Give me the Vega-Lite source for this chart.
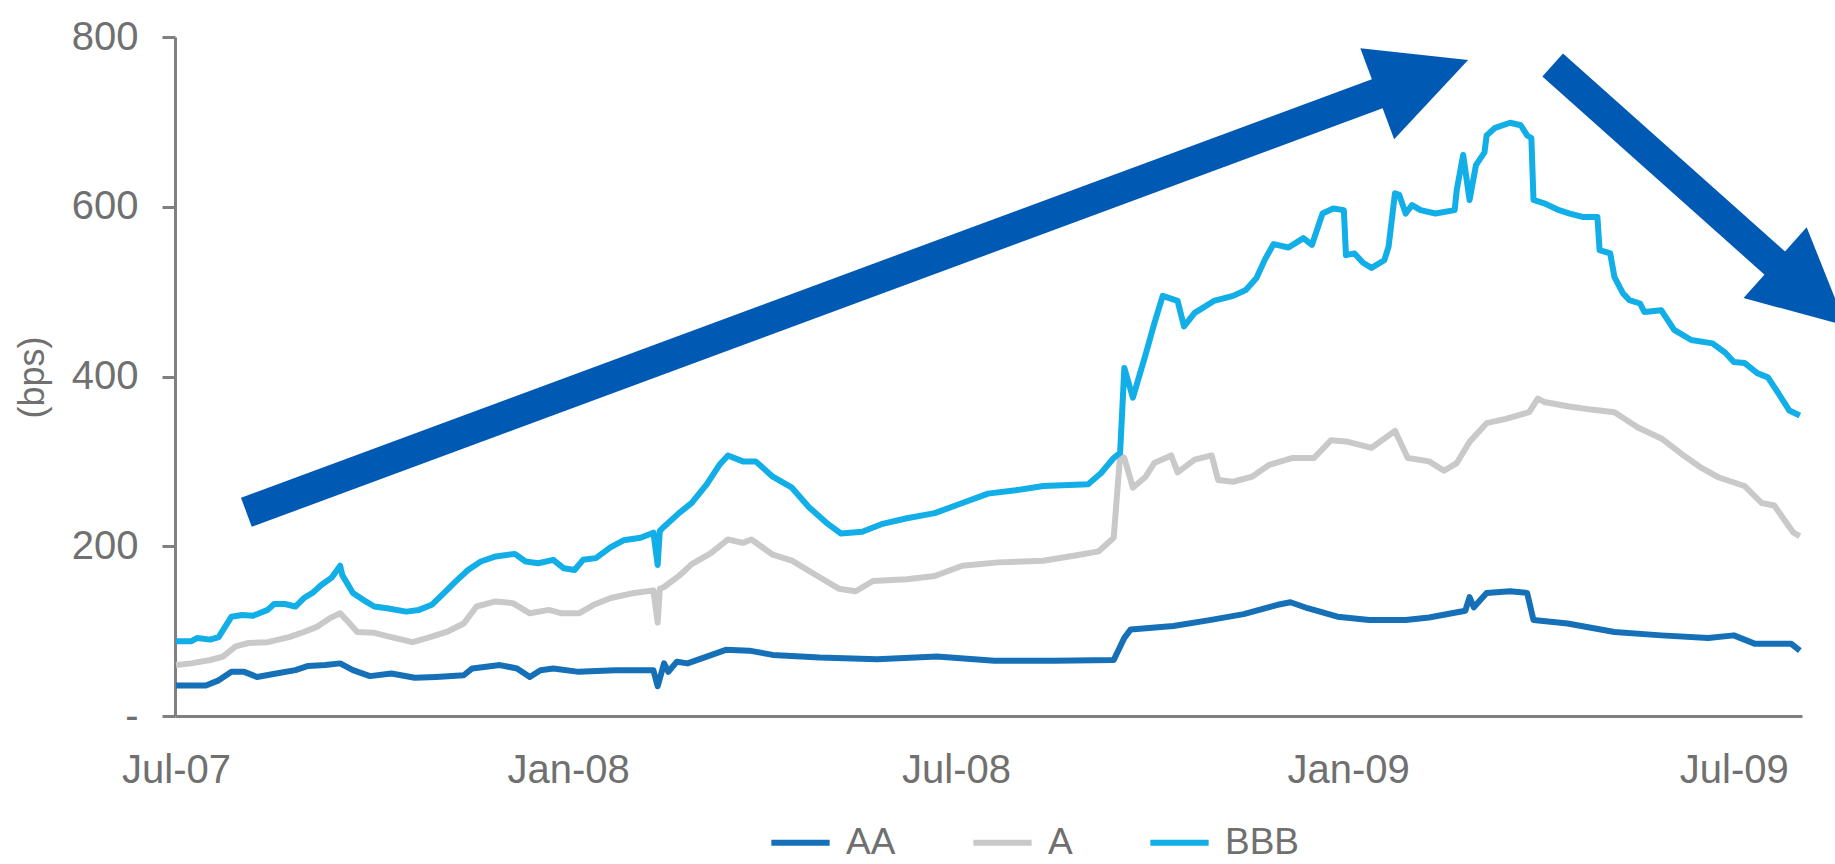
{
  "$schema": "https://vega.github.io/schema/vega-lite/v6.json",
  "width": 1627,
  "height": 679,
  "autosize": {"type": "none"},
  "padding": {"left": 175, "top": 37, "right": 33, "bottom": 148},
  "background": "white",
  "config": {"view": {"stroke": null}, "font": "Liberation Sans"},
  "datasets": {
    "spreads": [
      {"date": "2007-07-01", "rating": "AA", "bps": 36},
      {"date": "2007-07-15", "rating": "AA", "bps": 36},
      {"date": "2007-07-21", "rating": "AA", "bps": 42},
      {"date": "2007-07-27", "rating": "AA", "bps": 52},
      {"date": "2007-08-02", "rating": "AA", "bps": 52},
      {"date": "2007-08-08", "rating": "AA", "bps": 46},
      {"date": "2007-08-17", "rating": "AA", "bps": 50},
      {"date": "2007-08-26", "rating": "AA", "bps": 54},
      {"date": "2007-09-01", "rating": "AA", "bps": 59},
      {"date": "2007-09-09", "rating": "AA", "bps": 60},
      {"date": "2007-09-16", "rating": "AA", "bps": 62},
      {"date": "2007-09-22", "rating": "AA", "bps": 54},
      {"date": "2007-09-30", "rating": "AA", "bps": 47},
      {"date": "2007-10-10", "rating": "AA", "bps": 50},
      {"date": "2007-10-21", "rating": "AA", "bps": 45},
      {"date": "2007-10-31", "rating": "AA", "bps": 46},
      {"date": "2007-11-13", "rating": "AA", "bps": 48},
      {"date": "2007-11-17", "rating": "AA", "bps": 56},
      {"date": "2007-11-30", "rating": "AA", "bps": 60},
      {"date": "2007-12-08", "rating": "AA", "bps": 56},
      {"date": "2007-12-14", "rating": "AA", "bps": 46},
      {"date": "2007-12-19", "rating": "AA", "bps": 54},
      {"date": "2007-12-25", "rating": "AA", "bps": 56},
      {"date": "2008-01-06", "rating": "AA", "bps": 52},
      {"date": "2008-01-23", "rating": "AA", "bps": 54},
      {"date": "2008-02-10", "rating": "AA", "bps": 54},
      {"date": "2008-02-12", "rating": "AA", "bps": 35},
      {"date": "2008-02-15", "rating": "AA", "bps": 62},
      {"date": "2008-02-17", "rating": "AA", "bps": 52},
      {"date": "2008-02-21", "rating": "AA", "bps": 64},
      {"date": "2008-02-26", "rating": "AA", "bps": 62},
      {"date": "2008-03-15", "rating": "AA", "bps": 78},
      {"date": "2008-03-26", "rating": "AA", "bps": 77},
      {"date": "2008-04-06", "rating": "AA", "bps": 72},
      {"date": "2008-04-28", "rating": "AA", "bps": 69},
      {"date": "2008-05-25", "rating": "AA", "bps": 67},
      {"date": "2008-06-22", "rating": "AA", "bps": 70},
      {"date": "2008-07-19", "rating": "AA", "bps": 65},
      {"date": "2008-08-16", "rating": "AA", "bps": 65},
      {"date": "2008-09-13", "rating": "AA", "bps": 66},
      {"date": "2008-09-18", "rating": "AA", "bps": 92},
      {"date": "2008-09-21", "rating": "AA", "bps": 102},
      {"date": "2008-10-11", "rating": "AA", "bps": 106},
      {"date": "2008-10-28", "rating": "AA", "bps": 113},
      {"date": "2008-11-13", "rating": "AA", "bps": 120},
      {"date": "2008-11-29", "rating": "AA", "bps": 131},
      {"date": "2008-12-05", "rating": "AA", "bps": 134},
      {"date": "2008-12-13", "rating": "AA", "bps": 127},
      {"date": "2008-12-27", "rating": "AA", "bps": 117},
      {"date": "2009-01-11", "rating": "AA", "bps": 113},
      {"date": "2009-01-28", "rating": "AA", "bps": 113},
      {"date": "2009-02-08", "rating": "AA", "bps": 116},
      {"date": "2009-02-25", "rating": "AA", "bps": 124},
      {"date": "2009-02-27", "rating": "AA", "bps": 140},
      {"date": "2009-03-01", "rating": "AA", "bps": 128},
      {"date": "2009-03-07", "rating": "AA", "bps": 145},
      {"date": "2009-03-18", "rating": "AA", "bps": 147},
      {"date": "2009-03-26", "rating": "AA", "bps": 145},
      {"date": "2009-03-29", "rating": "AA", "bps": 113},
      {"date": "2009-04-14", "rating": "AA", "bps": 109},
      {"date": "2009-05-06", "rating": "AA", "bps": 99},
      {"date": "2009-05-28", "rating": "AA", "bps": 95},
      {"date": "2009-06-19", "rating": "AA", "bps": 92},
      {"date": "2009-07-01", "rating": "AA", "bps": 95},
      {"date": "2009-07-11", "rating": "AA", "bps": 85},
      {"date": "2009-07-28", "rating": "AA", "bps": 85},
      {"date": "2009-08-01", "rating": "AA", "bps": 77},

      {"date": "2007-07-01", "rating": "A", "bps": 60},
      {"date": "2007-07-08", "rating": "A", "bps": 62},
      {"date": "2007-07-17", "rating": "A", "bps": 66},
      {"date": "2007-07-23", "rating": "A", "bps": 70},
      {"date": "2007-07-29", "rating": "A", "bps": 82},
      {"date": "2007-08-04", "rating": "A", "bps": 86},
      {"date": "2007-08-13", "rating": "A", "bps": 87},
      {"date": "2007-08-23", "rating": "A", "bps": 93},
      {"date": "2007-08-30", "rating": "A", "bps": 99},
      {"date": "2007-09-05", "rating": "A", "bps": 105},
      {"date": "2007-09-11", "rating": "A", "bps": 115},
      {"date": "2007-09-16", "rating": "A", "bps": 121},
      {"date": "2007-09-19", "rating": "A", "bps": 113},
      {"date": "2007-09-24", "rating": "A", "bps": 99},
      {"date": "2007-10-02", "rating": "A", "bps": 98},
      {"date": "2007-10-10", "rating": "A", "bps": 93},
      {"date": "2007-10-20", "rating": "A", "bps": 87},
      {"date": "2007-10-27", "rating": "A", "bps": 92},
      {"date": "2007-11-05", "rating": "A", "bps": 99},
      {"date": "2007-11-13", "rating": "A", "bps": 109},
      {"date": "2007-11-19", "rating": "A", "bps": 129},
      {"date": "2007-11-28", "rating": "A", "bps": 135},
      {"date": "2007-12-06", "rating": "A", "bps": 133},
      {"date": "2007-12-14", "rating": "A", "bps": 121},
      {"date": "2007-12-23", "rating": "A", "bps": 125},
      {"date": "2007-12-29", "rating": "A", "bps": 121},
      {"date": "2008-01-06", "rating": "A", "bps": 121},
      {"date": "2008-01-13", "rating": "A", "bps": 131},
      {"date": "2008-01-21", "rating": "A", "bps": 139},
      {"date": "2008-02-01", "rating": "A", "bps": 145},
      {"date": "2008-02-10", "rating": "A", "bps": 148},
      {"date": "2008-02-12", "rating": "A", "bps": 110},
      {"date": "2008-02-13", "rating": "A", "bps": 150},
      {"date": "2008-02-15", "rating": "A", "bps": 152},
      {"date": "2008-02-22", "rating": "A", "bps": 165},
      {"date": "2008-02-28", "rating": "A", "bps": 179},
      {"date": "2008-03-08", "rating": "A", "bps": 192},
      {"date": "2008-03-16", "rating": "A", "bps": 208},
      {"date": "2008-03-23", "rating": "A", "bps": 204},
      {"date": "2008-03-27", "rating": "A", "bps": 208},
      {"date": "2008-04-06", "rating": "A", "bps": 190},
      {"date": "2008-04-15", "rating": "A", "bps": 183},
      {"date": "2008-04-27", "rating": "A", "bps": 165},
      {"date": "2008-05-07", "rating": "A", "bps": 150},
      {"date": "2008-05-15", "rating": "A", "bps": 147},
      {"date": "2008-05-23", "rating": "A", "bps": 159},
      {"date": "2008-06-08", "rating": "A", "bps": 161},
      {"date": "2008-06-21", "rating": "A", "bps": 165},
      {"date": "2008-07-04", "rating": "A", "bps": 177},
      {"date": "2008-07-21", "rating": "A", "bps": 181},
      {"date": "2008-08-11", "rating": "A", "bps": 183},
      {"date": "2008-08-28", "rating": "A", "bps": 190},
      {"date": "2008-09-06", "rating": "A", "bps": 194},
      {"date": "2008-09-13", "rating": "A", "bps": 210},
      {"date": "2008-09-16", "rating": "A", "bps": 307},
      {"date": "2008-09-18", "rating": "A", "bps": 304},
      {"date": "2008-09-22", "rating": "A", "bps": 269},
      {"date": "2008-09-28", "rating": "A", "bps": 282},
      {"date": "2008-10-02", "rating": "A", "bps": 298},
      {"date": "2008-10-10", "rating": "A", "bps": 307},
      {"date": "2008-10-13", "rating": "A", "bps": 287},
      {"date": "2008-10-21", "rating": "A", "bps": 302},
      {"date": "2008-10-29", "rating": "A", "bps": 307},
      {"date": "2008-11-01", "rating": "A", "bps": 278},
      {"date": "2008-11-08", "rating": "A", "bps": 276},
      {"date": "2008-11-17", "rating": "A", "bps": 282},
      {"date": "2008-11-25", "rating": "A", "bps": 296},
      {"date": "2008-12-06", "rating": "A", "bps": 304},
      {"date": "2008-12-16", "rating": "A", "bps": 304},
      {"date": "2008-12-24", "rating": "A", "bps": 325},
      {"date": "2009-01-01", "rating": "A", "bps": 323},
      {"date": "2009-01-12", "rating": "A", "bps": 316},
      {"date": "2009-01-23", "rating": "A", "bps": 336},
      {"date": "2009-01-29", "rating": "A", "bps": 304},
      {"date": "2009-02-08", "rating": "A", "bps": 300},
      {"date": "2009-02-15", "rating": "A", "bps": 289},
      {"date": "2009-02-21", "rating": "A", "bps": 298},
      {"date": "2009-02-27", "rating": "A", "bps": 323},
      {"date": "2009-03-07", "rating": "A", "bps": 345},
      {"date": "2009-03-16", "rating": "A", "bps": 350},
      {"date": "2009-03-27", "rating": "A", "bps": 358},
      {"date": "2009-03-31", "rating": "A", "bps": 374},
      {"date": "2009-04-03", "rating": "A", "bps": 370},
      {"date": "2009-04-14", "rating": "A", "bps": 365},
      {"date": "2009-04-25", "rating": "A", "bps": 361},
      {"date": "2009-05-06", "rating": "A", "bps": 358},
      {"date": "2009-05-17", "rating": "A", "bps": 340},
      {"date": "2009-05-28", "rating": "A", "bps": 327},
      {"date": "2009-06-08", "rating": "A", "bps": 306},
      {"date": "2009-06-16", "rating": "A", "bps": 292},
      {"date": "2009-06-24", "rating": "A", "bps": 281},
      {"date": "2009-07-06", "rating": "A", "bps": 271},
      {"date": "2009-07-14", "rating": "A", "bps": 251},
      {"date": "2009-07-20", "rating": "A", "bps": 248},
      {"date": "2009-07-25", "rating": "A", "bps": 230},
      {"date": "2009-07-29", "rating": "A", "bps": 216},
      {"date": "2009-08-01", "rating": "A", "bps": 212},

      {"date": "2007-07-01", "rating": "BBB", "bps": 88},
      {"date": "2007-07-08", "rating": "BBB", "bps": 88},
      {"date": "2007-07-11", "rating": "BBB", "bps": 92},
      {"date": "2007-07-17", "rating": "BBB", "bps": 90},
      {"date": "2007-07-21", "rating": "BBB", "bps": 93},
      {"date": "2007-07-27", "rating": "BBB", "bps": 117},
      {"date": "2007-08-01", "rating": "BBB", "bps": 119},
      {"date": "2007-08-06", "rating": "BBB", "bps": 118},
      {"date": "2007-08-13", "rating": "BBB", "bps": 125},
      {"date": "2007-08-16", "rating": "BBB", "bps": 132},
      {"date": "2007-08-21", "rating": "BBB", "bps": 132},
      {"date": "2007-08-26", "rating": "BBB", "bps": 129},
      {"date": "2007-08-30", "rating": "BBB", "bps": 139},
      {"date": "2007-09-03", "rating": "BBB", "bps": 145},
      {"date": "2007-09-07", "rating": "BBB", "bps": 154},
      {"date": "2007-09-12", "rating": "BBB", "bps": 163},
      {"date": "2007-09-16", "rating": "BBB", "bps": 177},
      {"date": "2007-09-17", "rating": "BBB", "bps": 166},
      {"date": "2007-09-22", "rating": "BBB", "bps": 145},
      {"date": "2007-09-28", "rating": "BBB", "bps": 135},
      {"date": "2007-10-02", "rating": "BBB", "bps": 129},
      {"date": "2007-10-08", "rating": "BBB", "bps": 127},
      {"date": "2007-10-17", "rating": "BBB", "bps": 123},
      {"date": "2007-10-23", "rating": "BBB", "bps": 125},
      {"date": "2007-10-29", "rating": "BBB", "bps": 131},
      {"date": "2007-11-05", "rating": "BBB", "bps": 148},
      {"date": "2007-11-09", "rating": "BBB", "bps": 158},
      {"date": "2007-11-15", "rating": "BBB", "bps": 172},
      {"date": "2007-11-21", "rating": "BBB", "bps": 182},
      {"date": "2007-11-28", "rating": "BBB", "bps": 188},
      {"date": "2007-12-07", "rating": "BBB", "bps": 191},
      {"date": "2007-12-12", "rating": "BBB", "bps": 182},
      {"date": "2007-12-18", "rating": "BBB", "bps": 180},
      {"date": "2007-12-25", "rating": "BBB", "bps": 184},
      {"date": "2007-12-30", "rating": "BBB", "bps": 174},
      {"date": "2008-01-04", "rating": "BBB", "bps": 172},
      {"date": "2008-01-08", "rating": "BBB", "bps": 184},
      {"date": "2008-01-14", "rating": "BBB", "bps": 186},
      {"date": "2008-01-21", "rating": "BBB", "bps": 199},
      {"date": "2008-01-27", "rating": "BBB", "bps": 207},
      {"date": "2008-02-04", "rating": "BBB", "bps": 210},
      {"date": "2008-02-10", "rating": "BBB", "bps": 216},
      {"date": "2008-02-12", "rating": "BBB", "bps": 178},
      {"date": "2008-02-13", "rating": "BBB", "bps": 218},
      {"date": "2008-02-15", "rating": "BBB", "bps": 223},
      {"date": "2008-02-22", "rating": "BBB", "bps": 239},
      {"date": "2008-02-28", "rating": "BBB", "bps": 251},
      {"date": "2008-03-06", "rating": "BBB", "bps": 273},
      {"date": "2008-03-12", "rating": "BBB", "bps": 296},
      {"date": "2008-03-16", "rating": "BBB", "bps": 307},
      {"date": "2008-03-23", "rating": "BBB", "bps": 300},
      {"date": "2008-03-29", "rating": "BBB", "bps": 300},
      {"date": "2008-04-06", "rating": "BBB", "bps": 282},
      {"date": "2008-04-15", "rating": "BBB", "bps": 269},
      {"date": "2008-04-23", "rating": "BBB", "bps": 246},
      {"date": "2008-05-02", "rating": "BBB", "bps": 226},
      {"date": "2008-05-08", "rating": "BBB", "bps": 215},
      {"date": "2008-05-18", "rating": "BBB", "bps": 217},
      {"date": "2008-05-27", "rating": "BBB", "bps": 226},
      {"date": "2008-06-08", "rating": "BBB", "bps": 233},
      {"date": "2008-06-21", "rating": "BBB", "bps": 239},
      {"date": "2008-07-04", "rating": "BBB", "bps": 251},
      {"date": "2008-07-16", "rating": "BBB", "bps": 262},
      {"date": "2008-07-29", "rating": "BBB", "bps": 266},
      {"date": "2008-08-11", "rating": "BBB", "bps": 271},
      {"date": "2008-09-01", "rating": "BBB", "bps": 273},
      {"date": "2008-09-07", "rating": "BBB", "bps": 286},
      {"date": "2008-09-13", "rating": "BBB", "bps": 304},
      {"date": "2008-09-16", "rating": "BBB", "bps": 310},
      {"date": "2008-09-18", "rating": "BBB", "bps": 410},
      {"date": "2008-09-22", "rating": "BBB", "bps": 375},
      {"date": "2008-09-28", "rating": "BBB", "bps": 426},
      {"date": "2008-10-02", "rating": "BBB", "bps": 462},
      {"date": "2008-10-06", "rating": "BBB", "bps": 495},
      {"date": "2008-10-13", "rating": "BBB", "bps": 489},
      {"date": "2008-10-16", "rating": "BBB", "bps": 459},
      {"date": "2008-10-21", "rating": "BBB", "bps": 475},
      {"date": "2008-10-30", "rating": "BBB", "bps": 489},
      {"date": "2008-11-08", "rating": "BBB", "bps": 495},
      {"date": "2008-11-14", "rating": "BBB", "bps": 502},
      {"date": "2008-11-19", "rating": "BBB", "bps": 516},
      {"date": "2008-11-23", "rating": "BBB", "bps": 538},
      {"date": "2008-11-27", "rating": "BBB", "bps": 556},
      {"date": "2008-12-04", "rating": "BBB", "bps": 552},
      {"date": "2008-12-11", "rating": "BBB", "bps": 563},
      {"date": "2008-12-15", "rating": "BBB", "bps": 555},
      {"date": "2008-12-20", "rating": "BBB", "bps": 592},
      {"date": "2008-12-25", "rating": "BBB", "bps": 598},
      {"date": "2008-12-30", "rating": "BBB", "bps": 596},
      {"date": "2008-12-31", "rating": "BBB", "bps": 543},
      {"date": "2009-01-04", "rating": "BBB", "bps": 545},
      {"date": "2009-01-08", "rating": "BBB", "bps": 534},
      {"date": "2009-01-12", "rating": "BBB", "bps": 528},
      {"date": "2009-01-18", "rating": "BBB", "bps": 537},
      {"date": "2009-01-20", "rating": "BBB", "bps": 553},
      {"date": "2009-01-23", "rating": "BBB", "bps": 616},
      {"date": "2009-01-25", "rating": "BBB", "bps": 614},
      {"date": "2009-01-28", "rating": "BBB", "bps": 592},
      {"date": "2009-01-31", "rating": "BBB", "bps": 602},
      {"date": "2009-02-04", "rating": "BBB", "bps": 596},
      {"date": "2009-02-11", "rating": "BBB", "bps": 592},
      {"date": "2009-02-20", "rating": "BBB", "bps": 596},
      {"date": "2009-02-21", "rating": "BBB", "bps": 620},
      {"date": "2009-02-24", "rating": "BBB", "bps": 661},
      {"date": "2009-02-27", "rating": "BBB", "bps": 608},
      {"date": "2009-03-02", "rating": "BBB", "bps": 649},
      {"date": "2009-03-06", "rating": "BBB", "bps": 664},
      {"date": "2009-03-07", "rating": "BBB", "bps": 684},
      {"date": "2009-03-11", "rating": "BBB", "bps": 693},
      {"date": "2009-03-18", "rating": "BBB", "bps": 699},
      {"date": "2009-03-23", "rating": "BBB", "bps": 696},
      {"date": "2009-03-26", "rating": "BBB", "bps": 684},
      {"date": "2009-03-28", "rating": "BBB", "bps": 681},
      {"date": "2009-03-29", "rating": "BBB", "bps": 608},
      {"date": "2009-04-03", "rating": "BBB", "bps": 604},
      {"date": "2009-04-10", "rating": "BBB", "bps": 596},
      {"date": "2009-04-15", "rating": "BBB", "bps": 592},
      {"date": "2009-04-21", "rating": "BBB", "bps": 588},
      {"date": "2009-04-28", "rating": "BBB", "bps": 588},
      {"date": "2009-04-29", "rating": "BBB", "bps": 549},
      {"date": "2009-05-04", "rating": "BBB", "bps": 545},
      {"date": "2009-05-06", "rating": "BBB", "bps": 517},
      {"date": "2009-05-10", "rating": "BBB", "bps": 498},
      {"date": "2009-05-13", "rating": "BBB", "bps": 490},
      {"date": "2009-05-18", "rating": "BBB", "bps": 486},
      {"date": "2009-05-20", "rating": "BBB", "bps": 476},
      {"date": "2009-05-28", "rating": "BBB", "bps": 478},
      {"date": "2009-06-03", "rating": "BBB", "bps": 455},
      {"date": "2009-06-11", "rating": "BBB", "bps": 443},
      {"date": "2009-06-21", "rating": "BBB", "bps": 439},
      {"date": "2009-06-27", "rating": "BBB", "bps": 428},
      {"date": "2009-07-01", "rating": "BBB", "bps": 417},
      {"date": "2009-07-06", "rating": "BBB", "bps": 416},
      {"date": "2009-07-12", "rating": "BBB", "bps": 404},
      {"date": "2009-07-17", "rating": "BBB", "bps": 399},
      {"date": "2009-07-22", "rating": "BBB", "bps": 380},
      {"date": "2009-07-27", "rating": "BBB", "bps": 360},
      {"date": "2009-08-01", "rating": "BBB", "bps": 354}
    ],
    "shafts": [
      {"arrow": "rise", "start": "2007-08-03", "startBps": 240, "end": "2009-01-21", "endBps": 739},
      {"arrow": "fall", "start": "2009-04-07", "startBps": 767, "end": "2009-07-25", "endBps": 523}
    ]
  },
  "encoding": {
    "x": {
      "type": "temporal",
      "scale": {"type": "utc", "domain": [{"year": 2007, "month": 6, "date": 30, "hours": 12, "utc": true}, {"year": 2009, "month": 8, "date": 2, "utc": true}]},
      "axis": {
        "values": [
          {"year": 2007, "month": 7, "date": 1, "utc": true},
          {"year": 2008, "month": 1, "date": 1, "utc": true},
          {"year": 2008, "month": 7, "date": 1, "utc": true},
          {"year": 2009, "month": 1, "date": 1, "utc": true},
          {"year": 2009, "month": 7, "date": 1, "utc": true}
        ],
        "labelExpr": "utcFormat(datum.value, '%b-%y')",
        "title": null, "grid": false, "ticks": false,
        "labelFontSize": 40, "labelColor": "#707070", "labelPadding": 34, "labelFlush": false,
        "domainColor": "#808080", "domainWidth": 3
      }
    },
    "y": {
      "type": "quantitative",
      "scale": {"domain": [0, 800], "nice": false},
      "axis": {
        "values": [0, 200, 400, 600, 800],
        "labelExpr": "datum.value == 0 ? '-' : datum.label",
        "title": "(bps)", "titleX": -143, "titleY": 340, "titleAngle": -90,
        "titleAlign": "center", "titleBaseline": "middle",
        "titleFontSize": 36, "titleFontWeight": "normal", "titleColor": "#707070",
        "grid": false, "labelFontSize": 40, "labelColor": "#707070", "labelPadding": 24,
        "tickSize": 13, "tickColor": "#808080", "tickWidth": 3,
        "domainColor": "#808080", "domainWidth": 3
      }
    }
  },
  "layer": [
    {
      "data": {"name": "spreads"},
      "mark": {"type": "line", "strokeWidth": 6, "strokeJoin": "round"},
      "encoding": {
        "x": {"field": "date"},
        "y": {"field": "bps"},
        "color": {
          "field": "rating", "type": "nominal",
          "scale": {"domain": ["AA", "A", "BBB"], "range": ["#1570b8", "#c9c9c9", "#12aee8"]},
          "legend": {
            "orient": "none", "legendX": 593, "legendY": 773, "direction": "horizontal", "columns": 3,
            "title": null, "symbolType": "stroke", "symbolStrokeWidth": 6, "symbolSize": 3400,
            "labelFontSize": 37, "labelColor": "#707070", "labelOffset": 13, "columnPadding": 65
          }
        }
      }
    },
    {
      "data": {"name": "shafts"},
      "mark": {"type": "rule", "strokeWidth": 31, "strokeCap": "butt", "color": "#0059b3"},
      "encoding": {
        "x": {"field": "start"},
        "y": {"field": "startBps"},
        "x2": {"field": "end"},
        "y2": {"field": "endBps"}
      }
    },
    {
      "data": {"values": [{"arrow": "rise", "tip": "2009-02-05", "tipBps": 753}]},
      "mark": {"type": "point", "shape": "M1,0L-1,-1L-1,1Z", "size": 9400, "angle": 339.6, "filled": true, "opacity": 1, "color": "#0059b3", "strokeWidth": 0},
      "encoding": {
        "x": {"field": "tip"},
        "y": {"field": "tipBps"}
      }
    },
    {
      "data": {"values": [{"arrow": "fall", "tip": "2009-08-06", "tipBps": 497}]},
      "mark": {"type": "point", "shape": "M1,0L-1,-1L-1,1Z", "size": 9000, "angle": 41.7, "filled": true, "opacity": 1, "color": "#0059b3", "strokeWidth": 0},
      "encoding": {
        "x": {"field": "tip"},
        "y": {"field": "tipBps"}
      }
    }
  ]
}
